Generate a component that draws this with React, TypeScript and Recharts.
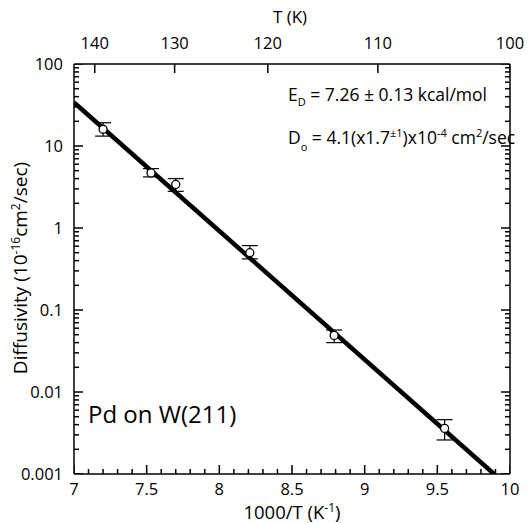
import React from 'react';
import { ComposedChart, Scatter, XAxis, YAxis, ErrorBar } from 'recharts';

// measured points (1000/T in K^-1, diffusivity in 1e-16 cm2/s)
const invT = [7.2, 7.53, 7.7, 8.21, 8.79, 9.55];
const diffusivity = [16, 4.7, 3.4, 0.5, 0.049, 0.0036];
const errLow = [13.2, 4.2, 2.8, 0.42, 0.04, 0.0026];
const errHigh = [19.2, 5.3, 4.0, 0.61, 0.057, 0.0046];

// Arrhenius fit line end points
const fitX = [7, 9.89];
const fitY = [34, 0.001];

const xMajorTicks = [7, 7.5, 8, 8.5, 9, 9.5, 10];
const xMinorTicks = [
  7.1, 7.2, 7.3, 7.4, 7.6, 7.7, 7.8, 7.9, 8.1, 8.2, 8.3, 8.4, 8.6, 8.7, 8.8, 8.9,
  9.1, 9.2, 9.3, 9.4, 9.6, 9.7, 9.8, 9.9,
];
const yMajorTicks = [0.001, 0.01, 0.1, 1, 10, 100];
const tempTicks = [140, 130, 120, 110, 100];

const FONT = '"Open Sans", sans-serif';
const TICK_FS = 16.5;

const points = invT.map((x, i) => ({
  x,
  y: diffusivity[i],
  err: [diffusivity[i] - errLow[i], errHigh[i] - diffusivity[i]],
}));
const fitData = fitX.map((x, i) => ({ x, y: fitY[i] }));

const yMinorTicks: number[] = [];
yMajorTicks.slice(0, -1).forEach((d) => {
  for (let k = 2; k <= 9; k++) yMinorTicks.push(+(d * k).toPrecision(3));
});
const yAllTicks = [...yMajorTicks, ...yMinorTicks].sort((a, b) => a - b);
const xAllTicks = [...xMajorTicks, ...xMinorTicks].sort((a, b) => a - b);

const isMajorX = (v: number) => xMajorTicks.some((t) => Math.abs(t - v) < 1e-6);
const isMajorY = (v: number) => yMajorTicks.some((t) => Math.abs(t / v - 1) < 1e-6);

// inward tick marks, placed through the chart scales
const tickMarks = [
  ...xAllTicks.map((x) => ({ x, y: 0.001, major: isMajorX(x), side: 'b' })),
  ...tempTicks.map((t) => ({ x: 1000 / t, y: 100, major: true, side: 't' })),
  ...yAllTicks.map((y) => ({ x: 7, y, major: isMajorY(y), side: 'l' })),
  ...yAllTicks.map((y) => ({ x: 10, y, major: isMajorY(y), side: 'r' })),
];

const TickMark = (p: any) => {
  const { cx, cy } = p;
  const m = p.payload || p;
  const len = m.major ? 9 : 5;
  let d = '';
  if (m.side === 'b') d = `M${cx},${cy}V${cy - len}`;
  else if (m.side === 't') d = `M${cx},${cy}V${cy + len}`;
  else if (m.side === 'l') d = `M${cx},${cy}H${cx + len}`;
  else d = `M${cx},${cy}H${cx - len}`;
  return <path d={d} stroke="#000" strokeWidth={1.5} fill="none" />;
};

const BottomTick = (p: any) => {
  const v = p.payload.value;
  if (!isMajorX(v)) return <g />;
  return (
    <text x={p.x} y={p.y + 19} textAnchor="middle" fontFamily={FONT} fontSize={TICK_FS} fill="#000">
      {String(v)}
    </text>
  );
};

const TopTick = (p: any) => (
  <text x={p.x} y={p.y - 13} textAnchor="middle" fontFamily={FONT} fontSize={TICK_FS} fill="#000">
    {Math.round(1000 / p.payload.value)}
  </text>
);

const LeftTick = (p: any) => {
  const v = p.payload.value;
  if (!isMajorY(v)) return <g />;
  return (
    <text x={p.x - 9} y={p.y + 6} textAnchor="end" fontFamily={FONT} fontSize={TICK_FS} fill="#000">
      {String(v)}
    </text>
  );
};

const Dot = (p: any) => <circle cx={p.cx} cy={p.cy} r={4} fill="#fff" stroke="#000" strokeWidth={1.3} />;
const NoDot = () => <g />;

export default function App() {
  const axisLine = { stroke: '#000', strokeWidth: 1.5 };
  return (
    <div style={{ position: 'absolute', left: 0, top: 0, width: 528, height: 523, background: '#fff' }}>
      <svg
        width={528}
        height={523}
        style={{ position: 'absolute', left: 0, top: 0 }}
        fontFamily={FONT}
        fill="#000"
      >
        <text x={290} y={23} textAnchor="middle" fontSize={17}>T (K)</text>
        <text x={292} y={519} textAnchor="middle" fontSize={18.5}>
          1000/T (K<tspan dy={-7} fontSize={12}>-1</tspan>
          <tspan dy={7}>)</tspan>
        </text>
        <text transform="translate(27,268) rotate(-90)" textAnchor="middle" fontSize={19}>
          Diffusivity (10<tspan dy={-7} fontSize={12}>-16</tspan>
          <tspan dy={7}>cm</tspan>
          <tspan dy={-7} fontSize={12}>2</tspan>
          <tspan dy={7}>/sec)</tspan>
        </text>
        <text x={288} y={101} fontSize={17.5}>
          E<tspan dy={5} fontSize={11}>D</tspan>
          <tspan dy={-5}> = 7.26 ± 0.13 kcal/mol</tspan>
        </text>
        <text x={288} y={144} fontSize={17.5}>
          D<tspan dy={7} fontSize={11}>o</tspan>
          <tspan dy={-7}> = 4.1(x1.7</tspan>
          <tspan dy={-7} fontSize={11}>±1</tspan>
          <tspan dy={7}>)x10</tspan>
          <tspan dy={-7} fontSize={11}>-4</tspan>
          <tspan dy={7}> cm</tspan>
          <tspan dy={-7} fontSize={11}>2</tspan>
          <tspan dy={7}>/sec</tspan>
        </text>
        <text x={88} y={423} fontSize={24}>Pd on W(211)</text>
      </svg>
      <div style={{ position: 'absolute', left: 0, top: 0 }}>
        <ComposedChart width={528} height={523} margin={{ top: 0, right: 0, bottom: 0, left: 0 }}>
          <XAxis
            dataKey="x"
            type="number"
            domain={[7, 10]}
            allowDataOverflow
            ticks={xAllTicks}
            interval={0}
            tickSize={0}
            tickLine={false}
            axisLine={axisLine}
            tick={BottomTick}
            height={49}
          />
          <XAxis
            xAxisId="top"
            dataKey="x"
            orientation="top"
            type="number"
            domain={[7, 10]}
            allowDataOverflow
            ticks={tempTicks.map((t) => 1000 / t)}
            interval={0}
            tickSize={0}
            tickLine={false}
            axisLine={axisLine}
            tick={TopTick}
            height={64}
          />
          <YAxis
            dataKey="y"
            type="number"
            scale="log"
            domain={[0.001, 100]}
            allowDataOverflow
            ticks={yAllTicks}
            interval={0}
            tickSize={0}
            tickLine={false}
            axisLine={axisLine}
            tick={LeftTick}
            width={74}
          />
          <YAxis
            yAxisId="right"
            dataKey="y"
            orientation="right"
            type="number"
            scale="log"
            domain={[0.001, 100]}
            allowDataOverflow
            tick={false}
            tickLine={false}
            axisLine={axisLine}
            width={18}
          />
          <Scatter data={tickMarks} shape={TickMark} isAnimationActive={false} />
          <Scatter
            data={fitData}
            xAxisId="top"
            yAxisId="right"
            line={{ stroke: '#000', strokeWidth: 4.5 }}
            shape={NoDot}
            isAnimationActive={false}
          />
          <Scatter data={points} shape={Dot} isAnimationActive={false}>
            <ErrorBar dataKey="err" direction="y" width={8} stroke="#000" strokeWidth={1.2} isAnimationActive={false} />
          </Scatter>
        </ComposedChart>
      </div>
    </div>
  );
}
